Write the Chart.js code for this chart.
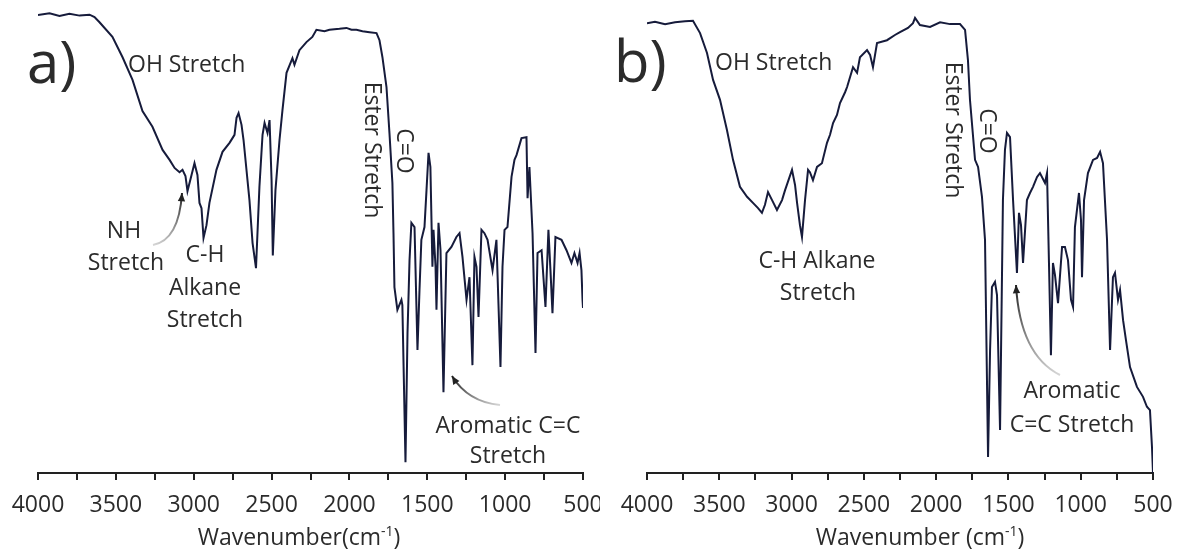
<!DOCTYPE html>
<html>
<head>
<meta charset="utf-8">
<script src="https://cdn.jsdelivr.net/npm/chart.js@4.4.1/dist/chart.umd.min.js"></script>
<style>
  html, body { margin: 0; padding: 0; background: #fff; }
  #wrap { position: relative; width: 1178px; height: 550px; }
  .panel { position: absolute; top: 0; }
  canvas { display: block; }
</style>
</head>
<body>
<div id="wrap">
  <div class="panel" style="left:0"><canvas id="chartA" width="600" height="550"></canvas></div>
  <div class="panel" style="left:600px"><canvas id="chartB" width="578" height="550"></canvas></div>
</div>
<script>
// x axis: wavenumber (cm-1), reversed; labelled every 500, ticks every 250
const majorTicks = [4000, 3500, 3000, 2500, 2000, 1500, 1000, 500];

// a) spectrum (transmittance, arbitrary %)
const wavenumberA = [
  4000, 3926, 3862, 3798, 3733, 3669, 3637, 3605, 3522, 3457,
  3393, 3329, 3265, 3200, 3155, 3123, 3091, 3072, 3053, 3040,
  3014, 2995, 2976, 2963, 2950, 2937, 2918, 2899, 2854, 2815,
  2770, 2751, 2738, 2725, 2712, 2693, 2680, 2642, 2622, 2600,
  2578, 2558, 2545, 2526, 2513, 2500, 2492, 2475, 2449, 2430,
  2404, 2366, 2353, 2321, 2276, 2238, 2212, 2160, 2128, 2064,
  2019, 1987, 1955, 1916, 1871, 1826, 1807, 1788, 1762, 1743,
  1724, 1717, 1711, 1692, 1666, 1660, 1640, 1627, 1614, 1602,
  1582, 1563, 1550, 1538, 1518, 1505, 1492, 1480, 1467, 1460,
  1447, 1441, 1428, 1415, 1396, 1377, 1345, 1313, 1293, 1274,
  1248, 1229, 1210, 1197, 1184, 1171, 1152, 1133, 1113, 1081,
  1056, 1030, 1017, 1004, 985, 959, 940, 927, 895, 863,
  856, 844, 824, 805, 792, 766, 741, 722, 709, 696,
  677, 638, 606, 574, 555, 535, 522, 510, 503, 500
];
const transA = [
  96.8, 97.2, 96.6, 97.1, 96.7, 96.9, 96.4, 95.3, 92.2, 87.9,
  83.1, 76.5, 73.2, 68.3, 66.2, 64.5, 63.6, 64.1, 62.8, 59.6,
  63.0, 65.5, 63.0, 57.1, 56.0, 49.7, 52.4, 57.1, 64.1, 67.9,
  69.8, 70.8, 71.5, 75.1, 76.1, 73.6, 70.4, 57.7, 48.6, 43.3,
  60.5, 71.5, 74.0, 71.9, 74.6, 61.9, 46.0, 59.8, 70.4, 76.7,
  84.6, 87.7, 86.3, 89.4, 91.1, 92.2, 93.7, 93.4, 93.7, 93.9,
  94.1, 93.7, 93.7, 93.4, 93.2, 93.0, 91.5, 87.9, 81.6, 71.9,
  61.3, 50.7, 39.3, 34.5, 36.6, 35.5, 2.3, 29.6, 45.0, 52.9,
  52.0, 26.0, 38.7, 49.3, 52.0, 59.8, 67.7, 64.7, 43.6, 51.4,
  43.6, 34.5, 52.9, 47.1, 17.1, 46.5, 47.8, 49.9, 50.7, 45.7,
  36.6, 41.4, 22.8, 45.7, 43.6, 33.0, 51.4, 50.7, 49.3, 42.9,
  49.3, 22.4, 43.6, 51.4, 52.0, 62.6, 66.2, 67.2, 70.8, 71.0,
  58.1, 64.7, 50.7, 25.4, 46.5, 47.1, 35.1, 51.4, 42.9, 33.8,
  49.9, 49.3, 47.1, 44.4, 46.5, 44.4, 46.5, 42.9, 36.6, 34.9
];

// b) spectrum
const wavenumberB = [
  4000, 3945, 3875, 3806, 3737, 3682, 3633, 3585, 3543, 3495,
  3447, 3405, 3357, 3308, 3267, 3232, 3205, 3184, 3163, 3135,
  3101, 3066, 3045, 2997, 2976, 2962, 2942, 2928, 2907, 2886,
  2873, 2852, 2824, 2790, 2755, 2734, 2713, 2686, 2665, 2630,
  2616, 2575, 2547, 2527, 2478, 2457, 2437, 2409, 2340, 2285,
  2250, 2195, 2160, 2146, 2112, 2042, 1973, 1904, 1835, 1800,
  1780, 1766, 1731, 1710, 1683, 1662, 1641, 1627, 1614, 1593,
  1579, 1558, 1538, 1524, 1510, 1489, 1468, 1441, 1427, 1413,
  1399, 1372, 1351, 1330, 1302, 1282, 1247, 1233, 1219, 1206,
  1192, 1178, 1157, 1129, 1109, 1088, 1067, 1053, 1040, 1012,
  998, 991, 977, 950, 915, 887, 866, 846, 818, 797,
  777, 763, 742, 728, 707, 687, 659, 611, 569, 542,
  521, 507, 500
];
const transB = [
  95.1, 95.4, 94.9, 95.3, 95.5, 95.6, 93.0, 88.8, 83.1, 78.9,
  72.5, 66.2, 60.5, 58.4, 57.1, 56.0, 55.0, 56.7, 59.4, 57.7,
  55.6, 57.7, 59.8, 64.1, 60.9, 57.1, 52.4, 49.9, 57.7, 64.1,
  63.6, 61.9, 64.7, 65.5, 69.8, 71.5, 74.0, 75.7, 78.2, 80.5,
  81.6, 85.8, 84.6, 87.9, 89.4, 88.4, 85.8, 90.9, 91.5, 92.6,
  93.2, 94.1, 95.1, 96.2, 94.7, 94.3, 95.3, 94.9, 94.9, 93.7,
  87.3, 78.9, 66.2, 64.7, 58.4, 49.3, 3.4, 26.0, 39.3, 40.4,
  37.6, 9.1, 57.7, 68.3, 71.9, 71.0, 57.7, 42.3, 55.0, 52.4,
  44.4, 57.7, 59.2, 60.5, 62.6, 63.4, 61.3, 63.4, 43.6, 24.9,
  44.4, 41.9, 35.9, 47.8, 47.8, 45.0, 36.6, 35.1, 52.0, 59.2,
  53.5, 41.4, 57.7, 63.4, 66.2, 66.6, 67.9, 65.5, 49.3, 26.0,
  41.4, 42.3, 36.6, 38.7, 32.3, 28.1, 22.4, 18.2, 16.1, 14.0,
  13.3, 5.5, 0
];

const textColor = '#2b2b2b';
const lineColor = '#161b3b';

function drawArrow(ctx, a) {
  const [fx, fy] = a.from, [cx, cy] = a.ctrl, [tx, ty] = a.to;
  const grad = ctx.createLinearGradient(fx, fy, tx, ty);
  grad.addColorStop(0, 'rgba(90,90,90,0.25)');
  grad.addColorStop(1, '#222');
  ctx.strokeStyle = grad;
  ctx.lineWidth = 2;
  ctx.beginPath();
  ctx.moveTo(fx, fy);
  ctx.quadraticCurveTo(cx, cy, tx, ty);
  ctx.stroke();
  const ang = Math.atan2(ty - cy, tx - cx);
  ctx.fillStyle = '#222';
  ctx.beginPath();
  ctx.moveTo(tx, ty);
  ctx.lineTo(tx - 9 * Math.cos(ang - 0.42), ty - 9 * Math.sin(ang - 0.42));
  ctx.lineTo(tx - 9 * Math.cos(ang + 0.42), ty - 9 * Math.sin(ang + 0.42));
  ctx.closePath();
  ctx.fill();
}

function annotator(notes) {
  return {
    id: 'annotate',
    afterDraw(chart) {
      const ctx = chart.ctx;
      ctx.save();
      ctx.fillStyle = textColor;
      notes.texts.forEach(t => {
        ctx.save();
        ctx.font = (t.size || 23) + 'px "Open Sans"';
        ctx.textAlign = t.align || 'center';
        ctx.textBaseline = t.rotate ? 'middle' : 'alphabetic';
        ctx.translate(t.x, t.y);
        if (t.rotate) ctx.rotate(t.rotate);
        ctx.fillText(t.text, 0, 0);
        ctx.restore();
      });
      notes.arrows.forEach(a => drawArrow(ctx, a));

      // axis title with superscript -1
      const ti = notes.title;
      ctx.fillStyle = textColor;
      ctx.textBaseline = 'alphabetic';
      ctx.textAlign = 'left';
      ctx.font = '23px "Open Sans"';
      const w1 = ctx.measureText(ti.main).width;
      const w3 = ctx.measureText(')').width;
      ctx.font = '14px "Open Sans"';
      const w2 = ctx.measureText('-1').width;
      let x = ti.x - (w1 + w2 + w3) / 2;
      ctx.font = '23px "Open Sans"';
      ctx.fillText(ti.main, x, ti.y);
      x += w1;
      ctx.font = '14px "Open Sans"';
      ctx.fillText('-1', x, ti.y - 9);
      x += w2;
      ctx.font = '23px "Open Sans"';
      ctx.fillText(')', x, ti.y);
      ctx.restore();
    }
  };
}

function makeChart(id, wn, tr, padL, padR, notes) {
  return new Chart(document.getElementById(id), {
    type: 'line',
    data: {
      datasets: [{
        data: wn.map((w, i) => ({ x: w, y: tr[i] })),
        borderColor: lineColor,
        borderWidth: 2,
        pointRadius: 0,
        tension: 0,
        fill: false
      }]
    },
    options: {
      responsive: false,
      animation: false,
      devicePixelRatio: 1,
      layout: { padding: { left: padL, right: padR, top: 0, bottom: 0 } },
      plugins: { legend: { display: false }, tooltip: { enabled: false } },
      scales: {
        x: {
          type: 'linear',
          reverse: true,
          min: 500,
          max: 4000,
          afterFit(axis) {
            axis.height = 77;
            axis.paddingLeft = 0;
            axis.paddingRight = 0;
          },
          border: { display: true, color: '#222', width: 2 },
          grid: { drawOnChartArea: false, drawTicks: true, tickLength: 7, color: '#222', lineWidth: 2 },
          ticks: {
            stepSize: 250,
            autoSkip: false,
            maxRotation: 0,
            padding: 12,
            color: textColor,
            font: { family: 'Open Sans', size: 23 },
            callback: v => majorTicks.includes(v) ? String(v) : ''
          }
        },
        y: { display: false, min: 0, max: 100 }
      }
    },
    plugins: [annotator(notes)]
  });
}

makeChart('chartA', wavenumberA, transA, 38, 17, {
  texts: [
    { text: 'a)', x: 27, y: 83, size: 58, align: 'left' },
    { text: 'OH Stretch', x: 128, y: 72, align: 'left' },
    { text: 'NH', x: 124, y: 238 },
    { text: 'Stretch', x: 126, y: 270 },
    { text: 'C-H', x: 205, y: 262 },
    { text: 'Alkane', x: 205, y: 295 },
    { text: 'Stretch', x: 205, y: 327 },
    { text: 'Ester Stretch', x: 372, y: 150, rotate: Math.PI / 2 },
    { text: 'C=O', x: 404, y: 151, rotate: Math.PI / 2 },
    { text: 'Aromatic C=C', x: 508, y: 433 },
    { text: 'Stretch', x: 508, y: 463 }
  ],
  arrows: [
    { from: [153, 245], ctrl: [179, 240], to: [182, 193] },
    { from: [500, 405], ctrl: [468, 402], to: [452, 376] }
  ],
  title: { main: 'Wavenumber(cm', x: 299, y: 545 }
});

makeChart('chartB', wavenumberB, transB, 47, 25, {
  texts: [
    { text: 'b)', x: 14, y: 82, size: 58, align: 'left' },
    { text: 'OH Stretch', x: 115, y: 70, align: 'left' },
    { text: 'C-H Alkane', x: 217, y: 268 },
    { text: 'Stretch', x: 218, y: 300 },
    { text: 'Ester Stretch', x: 353, y: 130, rotate: Math.PI / 2 },
    { text: 'C=O', x: 387, y: 131, rotate: Math.PI / 2 },
    { text: 'Aromatic', x: 472, y: 398 },
    { text: 'C=C Stretch', x: 472, y: 432 }
  ],
  arrows: [
    { from: [460, 375], ctrl: [420, 355], to: [416, 285] }
  ],
  title: { main: 'Wavenumber (cm', x: 320, y: 545 }
});
</script>
</body>
</html>
